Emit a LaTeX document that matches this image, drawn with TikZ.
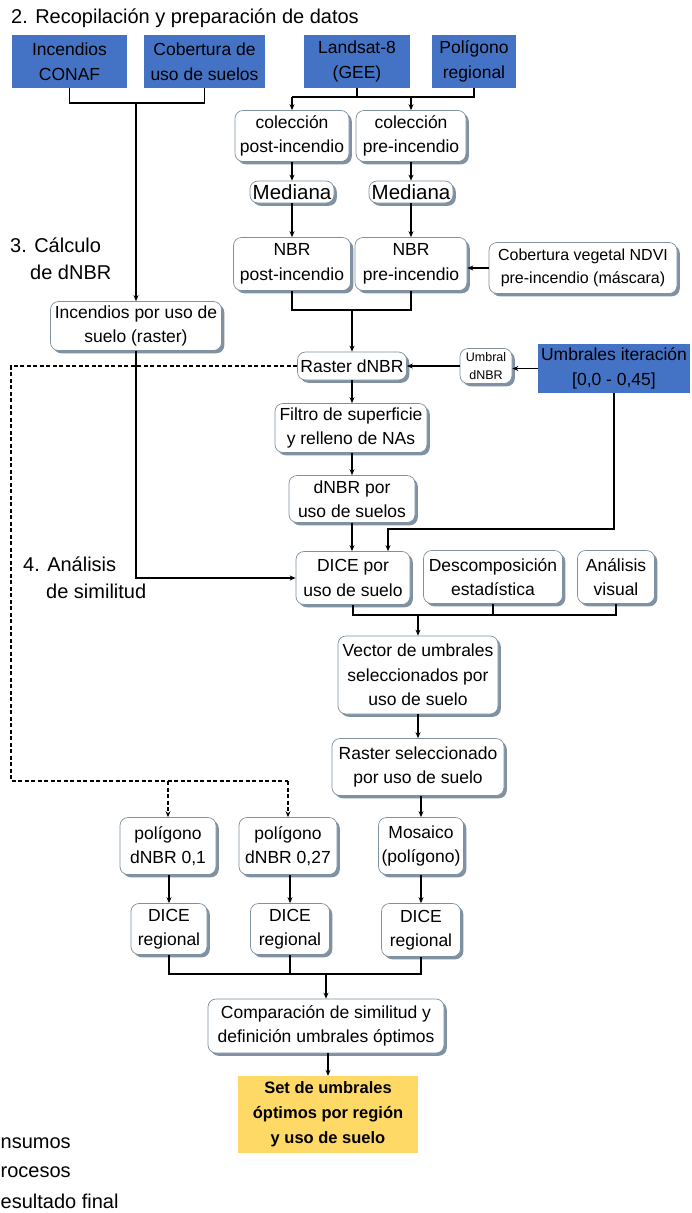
\documentclass[tikz,border=0pt]{standalone}
\usepackage{fontspec}
\setmainfont{Liberation Sans}
\usetikzlibrary{shadows,arrows.meta}
\definecolor{inblue}{RGB}{68,114,196}
\definecolor{resy}{RGB}{255,217,102}
\definecolor{bordc}{RGB}{125,145,160}
\definecolor{shadc}{RGB}{128,146,162}
\tikzset{
  base/.style={inner sep=0pt,align=center,font=\fontsize{17.5}{24.5}\selectfont},
  pbox/.style={base,rounded corners=8pt,draw=bordc,fill=white,line width=0.7pt,
    drop shadow={shadow xshift=2.8pt,shadow yshift=-2.8pt,fill=shadc,opacity=1}},
  ibox/.style={base,fill=inblue},
  rbox/.style={base,fill=resy,font=\fontsize{16.5}{25}\selectfont\bfseries},
  conn/.style={line width=1.1pt,black},
  arr/.style={conn,-{Stealth[length=6pt,width=5pt]}},
  dsh/.style={line width=1.1pt,dash pattern=on 4pt off 2.5pt},
  sect/.style={anchor=west,inner sep=0pt,align=left,font=\fontsize{20}{27}\selectfont},
  legt/.style={anchor=west,inner sep=0pt,font=\fontsize{20}{24}\selectfont},
  wh/.style args={#1x#2}{minimum width=#1pt,minimum height=#2pt}
}
\begin{document}
\begin{tikzpicture}[x=1pt,y=-1pt]
\useasboundingbox (0,0) rectangle (691,1213);
% section labels
\node[sect] (s2) at (11,18) {2. Recopilación y preparación de datos};
\node[sect] (s3) at (10,259) {3. Cálculo\\\hspace*{20pt}de dNBR};
\node[sect] (s4) at (23,578) {4. Análisis\\\hspace*{23pt}de similitud};
% inputs
\node[ibox,wh=115x53] (inc) at (69.5,61.5) {Incendios\\CONAF};
\node[ibox,wh=121x53] (cob) at (204.5,61.5) {Cobertura de\\uso de suelos};
\node[ibox,wh=106x53] (land) at (357,61.5) {Landsat-8\\(GEE)};
\node[ibox,wh=84x53] (pol) at (474,61.5) {Polígono\\regional};
\node[ibox,wh=152x49] (umbs) at (614,368.5) {Umbrales iteración\\{[0,0 - 0,45]}};
% processes
\node[pbox,wh=114x51] (colpost) at (292,136) {colección\\post-incendio};
\node[pbox,wh=110x51] (colpre) at (411,136) {colección\\pre-incendio};
\node[pbox,wh=84x22,font=\fontsize{20.5}{24}\selectfont] (medpost) at (292,192) {Mediana};
\node[pbox,wh=84x22,font=\fontsize{20.5}{24}\selectfont] (medpre) at (411,192) {Mediana};
\node[pbox,wh=117x53] (nbrpost) at (292,264) {NBR\\post-incendio};
\node[pbox,wh=112x53] (nbrpre) at (411,264) {NBR\\pre-incendio};
\node[pbox,wh=188x51,font=\fontsize{16}{23}\selectfont] (ndvi) at (583,268) {Cobertura vegetal NDVI\\pre-incendio (máscara)};
\node[pbox,wh=171x49] (incuso) at (136,326) {Incendios por uso de\\suelo (raster)};
\node[pbox,wh=109x28] (raster) at (352,366) {Raster dNBR};
\node[pbox,wh=52x35,font=\fontsize{12.5}{18.5}\selectfont] (umbral) at (486,366) {Umbral\\dNBR};
\node[pbox,wh=152x49] (filtro) at (351,428) {Filtro de superficie\\y relleno de NAs};
\node[pbox,wh=126x47] (dnbruso) at (352,499) {dNBR por\\uso de suelos};
\node[pbox,wh=114x53] (dice) at (353,578) {DICE por\\uso de suelo};
\node[pbox,wh=139x53] (desc) at (493,577) {Descomposición\\estadística};
\node[pbox,wh=77x53] (anal) at (616,577) {Análisis\\visual};
\node[pbox,wh=160x78] (vector) at (418,675) {Vector de umbrales\\seleccionados por\\uso de suelo};
\node[pbox,wh=172x57] (rsel) at (418,767) {Raster seleccionado\\por uso de suelo};
\node[pbox,wh=85x57] (mos) at (421,846) {Mosaico\\(polígono)};
\node[pbox,wh=96x57] (pol1) at (168,846) {polígono\\dNBR 0,1};
\node[pbox,wh=98x57] (pol2) at (288,846) {polígono\\dNBR 0,27};
\node[pbox,wh=76x51] (dr1) at (169,929) {DICE\\regional};
\node[pbox,wh=79x51] (dr2) at (290,929) {DICE\\regional};
\node[pbox,wh=79x53] (dr3) at (421,930) {DICE\\regional};
\node[pbox,wh=236x54] (comp) at (326,1026) {Comparación de similitud y\\definición umbrales óptimos};
\node[rbox,wh=180x77] (set) at (328,1114.5) {Set de umbrales\\óptimos por región\\y uso de suelo};
% legend (as printed at the left edge)
\node[legt] (l1) at (0.5,1143) {nsumos};
\node[legt] (l2) at (0.5,1172) {rocesos};
\node[legt] (l3) at (0.5,1201) {esultado final};
% connectors
\coordinate (j1) at (136,103);
\draw[conn] (inc.south) |- (j1) -| (cob.south);
\draw[arr] (j1) -- (incuso.north);
\draw[arr] (incuso.south) |- (dice.west);
\coordinate (j2) at (292,97);
\draw[conn] (land.south) -- (land.south |- j2);
\draw[conn] (pol.south) |- (j2);
\draw[arr] (j2) -- (colpost.north);
\draw[arr] (colpre.north |- j2) -- (colpre.north);
\draw[arr] (colpost.south) -- (medpost.north);
\draw[arr] (colpre.south) -- (medpre.north);
\draw[arr] (medpost.south) -- (nbrpost.north);
\draw[arr] (medpre.south) -- (nbrpre.north);
\draw[arr] (ndvi.west) -- (ndvi.west -| nbrpre.east);
\coordinate (j3) at (352,310);
\draw[conn] (nbrpost.south) |- (j3) -| (nbrpre.south);
\draw[arr] (j3) -- (raster.north);
\draw[arr] (umbs.west) -- (umbs.west -| umbral.east);
\draw[arr] (umbral.west) -- (umbral.west -| raster.east);
\coordinate (d1) at (11,781);
\coordinate (d2) at (288,781);
\draw[dsh] (raster.west) -| (d1) -- (d2);
\draw[dsh,-{Stealth[length=6pt,width=5pt]}] (d2) -- (pol2.north);
\draw[dsh,-{Stealth[length=6pt,width=5pt]}] (pol1.north |- d2) -- (pol1.north);
\draw[arr] (raster.south) -- (filtro.north -| raster.south);
\draw[arr] (filtro.south -| dnbruso.north) -- (dnbruso.north);
\draw[arr] (dnbruso.south) -- (dnbruso.south |- dice.north);
\coordinate (j4) at (388,529);
\draw[arr] (umbs.south) |- (j4) -- (j4 |- dice.north);
\coordinate (j5) at (418,615);
\draw[conn] (dice.south) |- (anal.south |- j5) -- (anal.south);
\draw[conn] (desc.south) -- (desc.south |- j5);
\draw[arr] (j5) -- (vector.north);
\draw[arr] (vector.south) -- (rsel.north);
\draw[arr] (rsel.south -| mos.north) -- (mos.north);
\draw[arr] (pol1.south -| dr1.north) -- (dr1.north);
\draw[arr] (pol2.south -| dr2.north) -- (dr2.north);
\draw[arr] (mos.south) -- (dr3.north);
\coordinate (j6) at (326,974);
\draw[conn] (dr1.south) |- (dr3.south |- j6) -- (dr3.south);
\draw[conn] (dr2.south) -- (dr2.south |- j6);
\draw[arr] (j6) -- (comp.north);
\draw[arr] (comp.south -| set.north) -- (set.north);
\end{tikzpicture}
\end{document}
